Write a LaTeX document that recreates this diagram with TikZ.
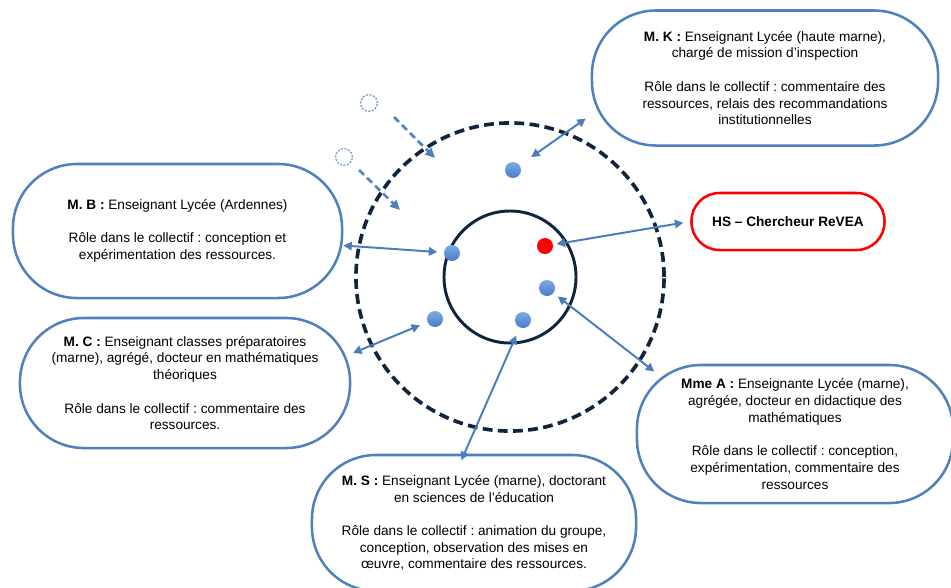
\documentclass[tikz,border=0pt]{standalone}
\usepackage{fontspec}
\setmainfont{Liberation Sans}
\frenchspacing
\usetikzlibrary{arrows.meta, positioning, calc}
\definecolor{boxblue}{RGB}{79,129,189}
\definecolor{linkblue}{RGB}{74,126,187}
\definecolor{ringnavy}{RGB}{17,36,62}
\definecolor{dotblue}{RGB}{72,124,200}
\definecolor{dotlight}{RGB}{125,170,228}
\definecolor{hsred}{RGB}{255,0,0}
\tikzset{
  pill/.style={draw=boxblue, line width=1.8pt, fill=white, rounded corners=1.6cm, align=center, inner sep=0pt, font=\fontsize{9.7}{11.9}\selectfont},
  member/.style={circle, inner sep=0pt, minimum size=0.4cm, top color=dotlight, bottom color=dotblue},
  link/.style={{Triangle[length=6pt,width=6pt]}-{Triangle[length=6pt,width=6pt]}, draw=linkblue, line width=1.4pt},
  arrival/.style={-{Triangle[length=7pt,width=6.5pt]}, draw=boxblue, line width=1.8pt, dash pattern=on 5pt off 3pt},
  ghost/.style={circle, draw=boxblue!80, line width=0.9pt, dash pattern=on 1.5pt off 1pt, minimum size=0.42cm, inner sep=0pt}
}

\begin{document}
\begin{tikzpicture}[x=0.025cm, y=-0.025cm]
  \useasboundingbox (0,0) rectangle (951,587);

  % Collectif
  \coordinate (ctr) at (510,277);
  \draw[ringnavy, line width=2.6pt, dash pattern=on 7pt off 3.8pt] (ctr) circle[radius=3.85cm];
  \draw[ringnavy, line width=2.1pt] (ctr) circle[radius=1.65cm];

  % Members joining
  \node[ghost] (g1) at (369,103) {};
  \node[ghost] (g2) at (344,157) {};
  \coordinate (in1s) at (394,117);
  \coordinate (in1e) at (435,158);
  \coordinate (in2s) at (359,170);
  \coordinate (in2e) at (400,210);
  \draw[arrival] (in1s) -- (in1e);
  \draw[arrival] (in2s) -- (in2e);

  % People
  \node[pill, minimum width=8.65cm, minimum height=3.375cm] (mk) at (765,78) {
    \textbf{M. K :} Enseignant Lycée (haute marne),\\
    chargé de mission d’inspection\\[11.9pt]
    Rôle dans le collectif : commentaire des\\
    ressources, relais des recommandations\\
    institutionnelles};

  \node[pill, minimum width=8.225cm, minimum height=3.35cm] (mb) at (177.5,231) {
    \textbf{M. B :} Enseignant Lycée (Ardennes)\\[11.9pt]
    Rôle dans le collectif : conception et\\
    expérimentation des ressources.};

  \node[pill, draw=hsred, rounded corners=0.7cm, minimum width=4.825cm, minimum height=1.425cm] (hs) at (788,221.5) {
    \textbf{HS – Chercheur ReVEA}};

  \node[pill, minimum width=8.25cm, minimum height=3.25cm] (mc) at (185,383) {
    \textbf{M. C :} Enseignant classes préparatoires\\
    (marne), agrégé, docteur en mathématiques\\
    théoriques\\[11.9pt]
    Rôle dans le collectif : commentaire des\\
    ressources.};

  \node[pill, minimum width=7.9cm, minimum height=3.45cm] (ma) at (795,434) {
    \textbf{Mme A :} Enseignante Lycée (marne),\\
    agrégée, docteur en didactique des\\
    mathématiques\\[11.9pt]
    Rôle dans le collectif : conception,\\
    expérimentation, commentaire des\\
    ressources};

  \node[pill, minimum width=8.1cm, minimum height=3.4cm] (ms) at (474,523) {
    \textbf{M. S :} Enseignant Lycée (marne), doctorant\\
    en sciences de l’éducation\\[11.9pt]
    Rôle dans le collectif : animation du groupe,\\
    conception, observation des mises en\\
    œuvre, commentaire des ressources.};

  % Dots
  \node[member] (dK) at (513,170) {};
  \node[member] (dB) at (452,253) {};
  \node[member, top color=hsred, bottom color=hsred] (dH) at (545,246) {};
  \node[member] (dA) at (547,288) {};
  \node[member] (dS) at (523,320) {};
  \node[member] (dC) at (435,319) {};

  % Links
  \draw[link, shorten <=10pt, shorten >=4.3pt] (dK) -- (mk.192);
  \draw[link, shorten <=4.6pt] (dB) -- (mb.355);
  \draw[link, shorten <=2.5pt, shorten >=5pt] (dH) -- (hs.west);
  \draw[link, shorten <=5.7pt, shorten >=1.4pt] (dC) -- (mc.10);
  \draw[link, shorten <=6.1pt, shorten >=-5pt] (dS) -- (ms.98);
  \draw[link, shorten <=3.9pt, shorten >=-9pt] (dA) -- (ma.155);
\end{tikzpicture}
\end{document}
